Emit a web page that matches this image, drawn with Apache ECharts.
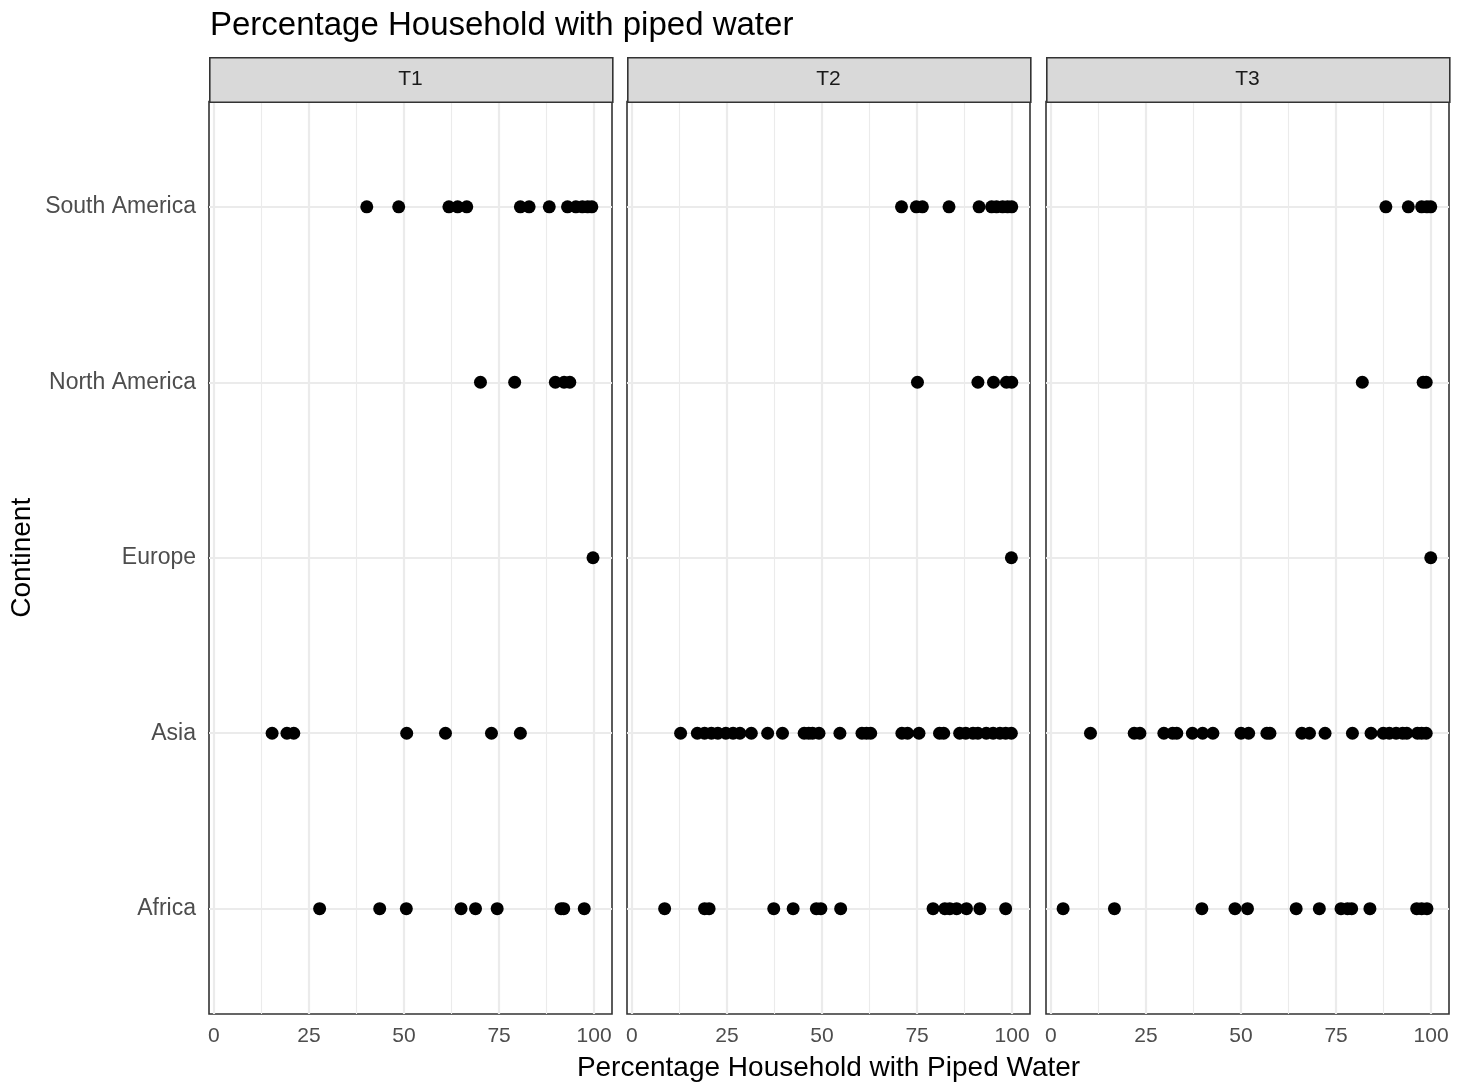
<!DOCTYPE html>
<html>
<head>
<meta charset="utf-8">
<script src="https://cdn.jsdelivr.net/npm/echarts@6/dist/echarts.min.js"></script>
<style>
html,body{margin:0;padding:0;background:#fff;}
#chart{width:1466px;height:1082px;}
</style>
</head>
<body>
<div id="chart"></div>
<script>
// ---- data ----
const categories = ['Africa', 'Asia', 'Europe', 'North America', 'South America'];
const panelNames = ['T1', 'T2', 'T3'];
const xTicks = [0, 25, 50, 75, 100];
const xMinorTicks = [12.5, 37.5, 62.5, 87.5];

const T1_Africa = [27.8, 43.6, 50.6, 65.0, 68.8, 74.5, 91.3, 92.0, 97.4];
const T1_Asia = [15.3, 19.2, 21.0, 50.7, 60.9, 73.0, 80.6];
const T1_Europe = [99.7];
const T1_NorthAmerica = [70.1, 79.1, 89.8, 92.1, 93.6];
const T1_SouthAmerica = [40.2, 48.6, 61.8, 64.1, 66.5, 80.6, 82.9, 88.2, 93.0, 95.2, 96.9, 98.3, 99.4];

const T2_Africa = [8.6, 19.1, 20.3, 37.3, 42.4, 48.5, 49.7, 54.9, 79.2, 82.3, 83.6, 85.4, 88.0, 91.5, 98.3];
const T2_Asia = [12.8, 17.2, 19.1, 20.9, 22.6, 24.7, 26.6, 28.4, 31.4, 35.7, 39.6, 45.3, 46.5, 47.5, 49.2, 54.7, 60.5, 61.7, 62.8, 71.0, 72.5, 75.5, 80.9, 82.0, 86.2, 87.8, 89.7, 91.0, 93.2, 95.0, 96.8, 98.3, 99.8];
const T2_Europe = [99.8];
const T2_NorthAmerica = [75.1, 91.0, 95.1, 98.5, 99.9];
const T2_SouthAmerica = [70.9, 74.8, 76.4, 83.4, 91.3, 94.6, 95.9, 97.5, 98.8, 99.9];

const T3_Africa = [3.2, 16.7, 39.7, 48.4, 51.7, 64.5, 70.6, 76.3, 78.0, 79.1, 83.9, 96.2, 97.5, 98.9];
const T3_Asia = [10.4, 21.9, 23.4, 29.7, 32.0, 33.1, 37.2, 39.9, 42.6, 50.0, 52.0, 56.8, 57.6, 66.0, 68.0, 72.1, 79.3, 84.2, 87.4, 89.0, 90.8, 92.5, 93.6, 96.4, 97.5, 98.7];
const T3_Europe = [99.9];
const T3_NorthAmerica = [81.9, 97.9, 98.7];
const T3_SouthAmerica = [88.1, 94.0, 97.5, 98.9, 99.9];

const panelData = [
  [T1_Africa, T1_Asia, T1_Europe, T1_NorthAmerica, T1_SouthAmerica],
  [T2_Africa, T2_Asia, T2_Europe, T2_NorthAmerica, T2_SouthAmerica],
  [T3_Africa, T3_Asia, T3_Europe, T3_NorthAmerica, T3_SouthAmerica]
];

// ---- layout ----
const FONT = "'Liberation Sans', Arial, Helvetica, sans-serif";
const panelLeft = [209, 627, 1046];
const panelWidth = 403;
const plotTop = 101.5;
const plotBottom = 1014;
const stripTop = 57;

const grids = [], xAxes = [], yAxes = [], series = [], graphics = [];

panelNames.forEach((name, p) => {
  grids.push({
    left: panelLeft[p], top: plotTop, width: panelWidth, height: plotBottom - plotTop,
    show: true, borderColor: '#333333', borderWidth: 1.6, backgroundColor: 'transparent',
    containLabel: false, outerBoundsMode: 'none'
  });
  const xa = {
    type: 'value', gridIndex: p, min: -1.3, max: 104.7,
    axisLine: { show: false },
    splitLine: { show: false },
    axisTick: { show: true, customValues: xTicks, length: 6, lineStyle: { color: '#333333', width: 1.6 } },
    axisLabel: { customValues: xTicks, color: '#4d4d4d', fontSize: 21, margin: 12, fontFamily: FONT }
  };
  if (p === 1) {
    xa.name = 'Percentage Household with Piped Water';
    xa.nameLocation = 'middle';
    xa.nameGap = 40;
    xa.nameTextStyle = { color: '#000', fontSize: 28, fontFamily: FONT };
  }
  xAxes.push(xa);
  const ya = {
    type: 'value', gridIndex: p, min: -0.6, max: 4.6,
    axisLine: { show: false },
    splitLine: { show: false },
    axisTick: { show: p === 0, customValues: [0, 1, 2, 3, 4], length: 6, lineStyle: { color: '#333333', width: 1.6 } },
    axisLabel: {
      show: p === 0, customValues: [0, 1, 2, 3, 4], color: '#4d4d4d', fontSize: 23, margin: 13, fontFamily: FONT,
      formatter: v => categories[Math.round(v)] || ''
    }
  };
  if (p === 0) {
    ya.name = 'Continent';
    ya.nameLocation = 'middle';
    ya.nameGap = 173;
    ya.nameRotate = 90;
    ya.nameTextStyle = { color: '#000', fontSize: 28, fontFamily: FONT };
  }
  yAxes.push(ya);

  // gridlines through the axes' own scales
  const glData = [];
  xTicks.forEach(v => glData.push({ xAxis: v, lineStyle: { color: '#ebebeb', width: 2.2, type: 'solid' } }));
  xMinorTicks.forEach(v => glData.push({ xAxis: v, lineStyle: { color: '#ebebeb', width: 1.1, type: 'solid' } }));
  categories.forEach((c, i) => glData.push({ yAxis: i, lineStyle: { color: '#ebebeb', width: 2.2, type: 'solid' } }));
  series.push({
    type: 'scatter', xAxisIndex: p, yAxisIndex: p, data: [], silent: true, z: 1,
    markLine: { silent: true, symbol: ['none', 'none'], label: { show: false }, animation: false, data: glData }
  });

  const pts = [];
  panelData[p].forEach((arr, ci) => arr.forEach(v => pts.push([v, ci])));
  series.push({
    type: 'scatter', xAxisIndex: p, yAxisIndex: p, data: pts, z: 5,
    symbol: 'circle', symbolSize: 13, itemStyle: { color: '#000000', opacity: 1 }, clip: false
  });

  graphics.push({
    type: 'rect', left: panelLeft[p], top: stripTop, z: 10,
    shape: { width: panelWidth, height: plotTop - stripTop },
    style: { fill: '#d9d9d9', stroke: '#333333', lineWidth: 1.6 }
  });
  graphics.push({
    type: 'text', z: 11,
    x: panelLeft[p] + panelWidth / 2, y: (stripTop + plotTop) / 2,
    style: { text: name, fill: '#1a1a1a', fontSize: 21, fontFamily: FONT, align: 'center', verticalAlign: 'middle' }
  });
});

const chart = echarts.init(document.getElementById('chart'), null, { renderer: 'canvas' });
chart.setOption({
  animation: false,
  backgroundColor: '#ffffff',
  title: {
    text: 'Percentage Household with piped water', left: 205, top: 4,
    textStyle: { color: '#000', fontSize: 33, fontWeight: 'normal', fontFamily: FONT }
  },
  grid: grids,
  xAxis: xAxes,
  yAxis: yAxes,
  series: series,
  graphic: graphics
});
</script>
</body>
</html>
